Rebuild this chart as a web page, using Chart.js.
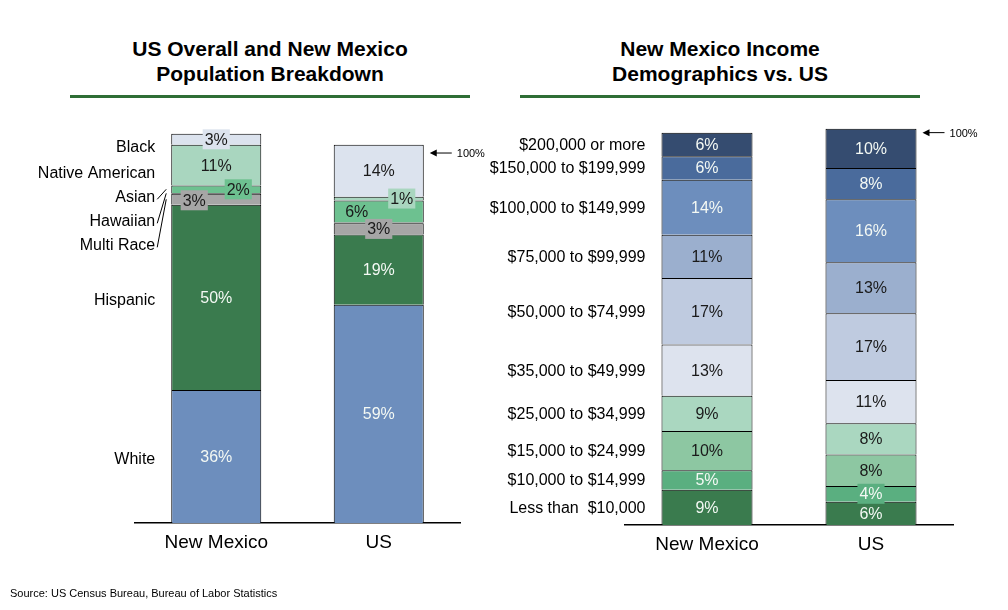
<!DOCTYPE html>
<html>
<head>
<meta charset="utf-8">
<script src="https://cdn.jsdelivr.net/npm/chart.js@4.4.1/dist/chart.umd.min.js"></script>
<style>
  body { margin: 0; width: 1008px; height: 610px; background: #fff; position: relative; overflow: hidden;
         font-family: "Liberation Sans", Arial, sans-serif; color: #000; }
  .title { position: absolute; width: 400px; top: 36px; font-weight: bold; font-size: 21px; line-height: 25px; text-align: center; }
  .rule { position: absolute; top: 95px; width: 400px; height: 3px; background: #2F6E35; }
  canvas { position: absolute; top: 0; }
  .source { position: absolute; left: 10px; top: 587px; font-size: 11px; }
</style>
</head>
<body>
<div class="title" style="left:70px">US Overall and New Mexico<br>Population Breakdown</div>
<div class="rule" style="left:70px"></div>
<div class="title" style="left:520px">New Mexico Income<br>Demographics vs. US</div>
<div class="rule" style="left:520px"></div>
<canvas id="popChart" width="490" height="610" style="left:0"></canvas>
<canvas id="incChart" width="518" height="610" style="left:490px"></canvas>
<div class="source">Source: US Census Bureau, Bureau of Labor Statistics</div>

<script>
// categorias (barras)
const regions = ['New Mexico', 'US'];

// população por grupo (%), de baixo para cima: [New Mexico, US]
const popGroups = ['White', 'Hispanic', 'Multi Race', 'Hawaiian', 'Asian', 'Native American', 'Black'];
const popWhite = [36, 59];
const popHispanic = [50, 19];
const popMultiRace = [3, 3];
const popHawaiian = [0.2, 0.2];
const popAsian = [2, 6];
const popNativeAmerican = [11, 1];
const popBlack = [3, 14];

// renda por faixa (%), de baixo para cima: [New Mexico, US]
const incGroups = ['Less than  $10,000', '$10,000 to $14,999', '$15,000 to $24,999', '$25,000 to $34,999',
  '$35,000 to $49,999', '$50,000 to $74,999', '$75,000 to $99,999', '$100,000 to $149,999',
  '$150,000 to $199,999', '$200,000 or more'];
const incUnder10k = [9, 6];
const inc10to15k = [5, 4];
const inc15to25k = [10, 8];
const inc25to35k = [9, 8];
const inc35to50k = [13, 11];
const inc50to75k = [17, 17];
const inc75to100k = [11, 13];
const inc100to150k = [14, 16];
const inc150to200k = [6, 8];
const inc200kPlus = [6, 10];

const FONT = '"Liberation Sans", Arial, sans-serif';
const DARK = '#1a1a1a';
const LIGHT = '#F4F9F4';

const popColors = ['#6D8EBD', '#3A7B4E', '#A6A6A6', '#111111', '#6DC190', '#A9D6BF', '#DCE3EE'];
const incColors = ['#3A7B4E', '#5AAF80', '#8DC7A2', '#AAD7C0', '#DDE3EE', '#BFCBE0', '#9BAFCE', '#6D8EBD', '#4A6B9C', '#354C70'];

// estilo dos rótulos de cada segmento [dataset][barra]
const popLabelStyles = [
  [{ color: LIGHT }, { color: LIGHT }],
  [{ color: LIGHT }, { color: LIGHT }],
  [{ color: DARK, box: '#A6A6A6', dx: -22, dy: 1 }, { color: DARK, box: '#A6A6A6' }],
  [null, null],
  [{ color: DARK, box: '#6DC190', dx: 22 }, { color: DARK, dx: -22 }],
  [{ color: DARK }, { color: DARK, box: '#A9D6BF', dx: 23 }],
  [{ color: DARK, box: '#DCE3EE' }, { color: DARK }]
];
const incLabelStyles = [
  [{ color: LIGHT }, { color: LIGHT }],
  [{ color: LIGHT }, { color: LIGHT, box: '#5AAF80' }],
  [{ color: DARK }, { color: DARK }],
  [{ color: DARK }, { color: DARK }],
  [{ color: DARK }, { color: DARK }],
  [{ color: DARK }, { color: DARK }],
  [{ color: DARK }, { color: DARK }],
  [{ color: LIGHT }, { color: LIGHT }],
  [{ color: LIGHT }, { color: LIGHT }],
  [{ color: LIGHT }, { color: LIGHT }]
];

// deslocamento vertical dos nomes (px), por dataset
const popNameShift = [2, 2, 7, 7, 7, 7, 7];
const incNameShift = [0, 0, 0, 0, 0, 0, 0, 0, 0, 0];

/**
 * Desenha os percentuais dentro dos segmentos, os nomes dos grupos à esquerda
 * e a seta de 100% ao lado da barra US
 */
const segmentLabels = {
  id: 'segmentLabels',
  afterDatasetsDraw(chart, args, opts) {
    const ctx = chart.ctx;
    ctx.save();
    ctx.textBaseline = 'middle';

    // percentuais
    ctx.font = '16px ' + FONT;
    ctx.textAlign = 'center';
    chart.data.datasets.forEach((ds, di) => {
      chart.getDatasetMeta(di).data.forEach((bar, i) => {
        const st = opts.styles[di][i];
        if (!st) return;
        const txt = Math.round(ds.data[i]) + '%';
        const x = bar.x + (st.dx || 0);
        const y = (bar.y + bar.base) / 2 + (st.dy || 0);
        if (st.box) {
          const w = ctx.measureText(txt).width + 4;
          ctx.fillStyle = st.box;
          ctx.fillRect(x - w / 2, y - 10, w, 20);
        }
        ctx.fillStyle = st.color;
        ctx.fillText(txt, x, y + 1);
      });
    });

    // nomes dos grupos, alinhados ao segmento da primeira barra
    ctx.textAlign = 'right';
    ctx.fillStyle = '#000';
    ctx.strokeStyle = '#000';
    ctx.lineWidth = 1;
    let prevY = -Infinity;
    for (let di = chart.data.datasets.length - 1; di >= 0; di--) {
      const bar = chart.getDatasetMeta(di).data[0];
      const center = (bar.y + bar.base) / 2;
      const y = Math.max(center, prevY + opts.minGap);
      prevY = y;
      const ty = y + opts.shift[di];
      const barLeft = bar.x - bar.width / 2;
      const right = barLeft - 16;
      ctx.fillText(opts.names[di], right, ty + 1);
      if (opts.leaders.includes(di)) {
        ctx.beginPath();
        ctx.moveTo(right + 2, ty + 3);
        ctx.lineTo(barLeft - 5, center);
        ctx.stroke();
      }
    }

    // seta 100%
    const us = chart.getDatasetMeta(0).data[1];
    const usRight = us.x + us.width / 2;
    const y100 = chart.scales.y.getPixelForValue(100);
    ctx.beginPath();
    ctx.moveTo(usRight + 8, y100);
    ctx.lineTo(usRight + 28, y100);
    ctx.stroke();
    ctx.beginPath();
    ctx.moveTo(usRight + 6, y100);
    ctx.lineTo(usRight + 13, y100 - 3.5);
    ctx.lineTo(usRight + 13, y100 + 3.5);
    ctx.closePath();
    ctx.fill();
    ctx.font = '11px ' + FONT;
    ctx.textAlign = 'left';
    ctx.fillText('100%', usRight + 33, y100 + 1);
    ctx.restore();
  }
};

const montarGrafico = (canvasId, seriesList, colors, max, padding, barPct, pluginOpts) => {
  const ctx = document.getElementById(canvasId).getContext('2d');
  return new Chart(ctx, {
    type: 'bar',
    data: {
      labels: regions,
      datasets: seriesList.map((data, i) => ({
        data: data,
        backgroundColor: colors[i],
        borderColor: '#000',
        borderWidth: 1,
        categoryPercentage: 1,
        barPercentage: barPct
      }))
    },
    options: {
      responsive: false,
      animation: false,
      layout: { padding: padding },
      plugins: {
        legend: { display: false },
        tooltip: { enabled: false },
        segmentLabels: pluginOpts
      },
      scales: {
        x: {
          stacked: true,
          grid: { display: false, drawTicks: false },
          border: { display: true, color: '#000', width: 1.5 },
          ticks: { color: '#000', padding: 8, font: { family: FONT, size: 19 } }
        },
        y: { stacked: true, display: false, min: 0, max: max }
      }
    },
    plugins: [segmentLabels]
  });
};

document.addEventListener('DOMContentLoaded', () => {
  montarGrafico('popChart',
    [popWhite, popHispanic, popMultiRace, popHawaiian, popAsian, popNativeAmerican, popBlack],
    popColors, 110, { left: 135, right: 30, top: 116, bottom: 48 }, 0.554,
    { styles: popLabelStyles, names: popGroups, shift: popNameShift, minGap: 24, leaders: [2, 3, 4] });

  montarGrafico('incChart',
    [incUnder10k, inc10to15k, inc15to25k, inc25to35k, inc35to50k, inc50to75k, inc75to100k, inc100to150k, inc150to200k, inc200kPlus],
    incColors, 105, { left: 135, right: 55, top: 113, bottom: 46 }, 0.555,
    { styles: incLabelStyles, names: incGroups, shift: incNameShift, minGap: 23, leaders: [] });
});
</script>
</body>
</html>
